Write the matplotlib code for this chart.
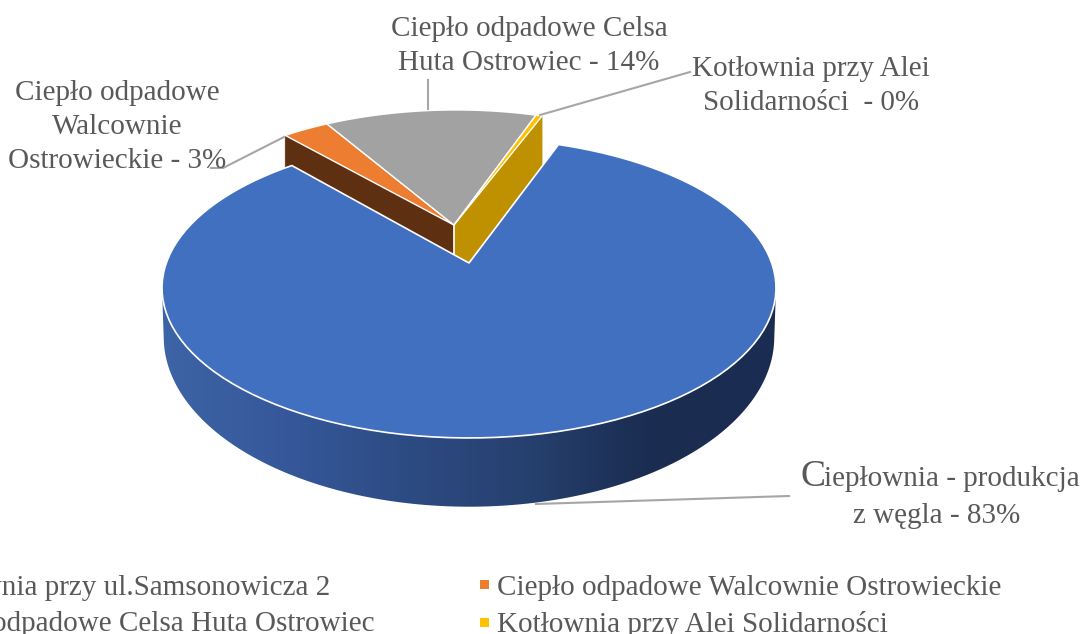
"""3D-looking pie of heat sources, drawn by hand since matplotlib has no perspective pie."""
import numpy as np
import matplotlib
matplotlib.use("Agg")
import matplotlib.pyplot as plt
from matplotlib.colors import LinearSegmentedColormap
from matplotlib.patches import Polygon, Rectangle

categories = ["Ciepłownia przy ul.Samsonowicza 2", "Ciepło odpadowe Walcownie Ostrowieckie",
              "Ciepło odpadowe Celsa Huta Ostrowiec", "Kotłownia przy Alei Solidarności"]
values = [83.0, 3.0, 13.6, 0.4]
top_colors = ["#4270c0", "#ec7d31", "#a2a2a2", "#ffc000"]
TEXT = "#595959"
LINE = "#a6a6a6"

plt.rcParams["font.family"] = ["Liberation Serif", "DejaVu Serif"]

W, H = 1083, 634
fig = plt.figure(figsize=(W / 100, H / 100), dpi=100)
ax = fig.add_axes([0, 0, 1, 1])

# perspective projection of the pie disc, numbers in picture pixels
CX, CY, A, B, K = 469, 263, 302.7, 145.8, 0.1667
CY2, A2, B2 = 308.7, 301, 165
CUT_DEPTH = 55
GROUP = (-0.052, 0.272)  # small slices sit behind the pulled out big one


def project(u, v, bottom=False):
    w = 1 + K * v
    if bottom:
        return CX + A2 * u / w, CY2 - B2 * v / w
    return CX + A * u / w, CY - B * v / w


def rim(a0, a1, off=(0, 0), bottom=False, n=120):
    t = np.radians(np.linspace(a0, a1, n))
    return project(np.sin(t) + off[0], np.cos(t) + off[1], bottom)


def wedge(a0, a1, off=(0, 0)):
    x, y = rim(a0, a1, off)
    x0, y0 = project(off[0], off[1])
    return np.column_stack([np.r_[x0, x], np.r_[y0, y]])


def side(a, off):
    # flat cut face along one radius, the big slice hides its lower part
    x0, y0 = project(off[0], off[1])
    x1, y1 = rim(a, a, off, n=1)
    return [(x0, y0), (x1[0], y1[0]), (x1[0], y1[0] + CUT_DEPTH), (x0, y0 + CUT_DEPTH)]


start = 20.0
edges = start + np.r_[0, np.cumsum(values)] / np.sum(values) * 360

# back group first
ax.add_patch(Polygon(side(edges[1], GROUP), fc="#5f2f12", ec="#5f2f12", lw=0.5))
ax.add_patch(Polygon(side(edges[4], GROUP), fc="#bf9000", ec="#bf9000", lw=0.5))
x0, y0 = project(*GROUP)
ax.plot([x0, x0], [y0, y0 + 32], color="white", lw=1.2)
for i in [1, 2, 3]:
    ax.add_patch(Polygon(wedge(edges[i], edges[i + 1], GROUP), fc=top_colors[i], ec="white", lw=1.0, joinstyle="round"))

# rim of the big slice with the gradient
tx, ty = rim(100, 260, n=200)
bx, by = rim(100, 260, bottom=True, n=200)
wall = np.column_stack([np.r_[tx, bx[::-1]], np.r_[ty, by[::-1]]])
wall_patch = Polygon(wall, fc="none", ec="none")
ax.add_patch(wall_patch)
cmap = LinearSegmentedColormap.from_list("wall", ["#3d64a6", "#36589a", "#2d4b83", "#26406e", "#1a2c50", "#1b2d52"])
grad = np.linspace(0, 1, 400).reshape(1, -1)
im = ax.imshow(grad, cmap=cmap, extent=[160, 778, 520, 280], aspect="auto", zorder=2)
im.set_clip_path(wall_patch)

ax.add_patch(Polygon(wedge(edges[0], edges[1]), fc=top_colors[0], ec="white", lw=1.2, zorder=3, joinstyle="round"))

# leader lines
ax.plot([211, 223, 284], [168, 168, 137], color=LINE, lw=1.5, zorder=4)
ax.plot([428, 428], [80, 109], color=LINE, lw=1.5, zorder=4)
ax.plot([540, 690], [115, 72], color=LINE, lw=1.5, zorder=4)
ax.plot([536, 789], [504, 496], color=LINE, lw=1.5, zorder=4)

# data labels
pct = [f"{round(v)}%" for v in values]
FS = 21
lab = dict(color=TEXT, fontsize=FS, ha="center", va="center", linespacing=1.38, zorder=5)
ax.text(529, 46, f"Ciepło odpadowe Celsa\nHuta Ostrowiec - {pct[2]}", **lab)
ax.text(117, 127, f"Ciepło odpadowe\nWalcownie\nOstrowieckie - {pct[1]}", **lab)
ax.text(811, 86, f"Kotłownia przy Alei\nSolidarności  - {pct[3]}", **lab)
ax.text(800, 477, "C", color=TEXT, fontsize=27, ha="left", va="center")
ax.text(1080, 479, "iepłownia - produkcja", color=TEXT, fontsize=FS, ha="right", va="center")
ax.text(937, 516, f"z węgla - {pct[0]}", color=TEXT, fontsize=FS, ha="center", va="center")

# legend, its left column runs off the picture
ax.text(330, 588, categories[0], color=TEXT, fontsize=FS, ha="right", va="center")
ax.text(375, 624, categories[2], color=TEXT, fontsize=FS, ha="right", va="center")
ax.text(497, 588, categories[1], color=TEXT, fontsize=FS, ha="left", va="center")
ax.text(497, 624, categories[3], color=TEXT, fontsize=FS, ha="left", va="center")
ax.add_patch(Rectangle((480, 580), 9, 9, fc=top_colors[1], ec="none"))
ax.add_patch(Rectangle((480, 618), 9, 9, fc=top_colors[3], ec="none"))

ax.set_xlim(0, W)
ax.set_ylim(H, 0)
ax.axis("off")
fig.savefig("out.png", dpi=100)
plt.close(fig)
